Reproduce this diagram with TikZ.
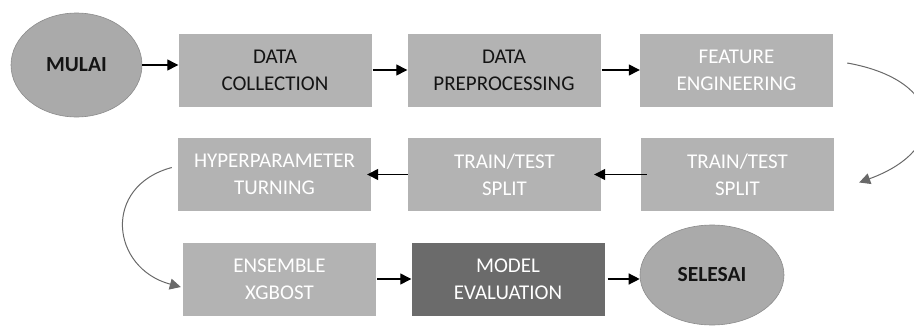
\documentclass[tikz,border=0pt]{standalone}
\usepackage{fontspec}
\setmainfont{Carlito}
\usetikzlibrary{arrows.meta,shapes.geometric}
\definecolor{cbox}{RGB}{179,179,179}
\definecolor{cterm}{RGB}{170,170,170}
\definecolor{cedge}{RGB}{140,140,140}
\definecolor{ceval}{RGB}{107,107,107}
\definecolor{ccurve}{RGB}{105,105,105}
\definecolor{ctext}{RGB}{20,20,20}

\begin{document}
\begin{tikzpicture}[x=1pt,y=1pt,
  stage/.style={rectangle,fill=cbox,minimum width=193pt,minimum height=73pt,
    inner sep=0pt,align=center,text=white,font=\fontsize{21}{27}\selectfont},
  terminal/.style={ellipse,fill=cterm,draw=cedge,line width=0.6pt,inner sep=0pt,
    text=ctext,font=\fontsize{21.5}{24}\selectfont\bfseries},
  flow/.style={-{Triangle[length=11pt,width=11pt]},line width=1.3pt},
  loopback/.style={-{Triangle[length=11pt,width=11pt]},ccurve,line width=1pt}]
  \useasboundingbox (0,0) rectangle (914,325);
  % row 1
  \node[terminal,minimum width=131pt,minimum height=104pt] (mulai) at (76.5,260) {MULAI};
  \node[stage,text=ctext] (dc) at (275,255) {DATA\\COLLECTION};
  \node[stage,text=ctext] (dp) at (504,255) {DATA\\PREPROCESSING};
  \node[stage] (fe) at (736.5,255) {FEATURE\\ENGINEERING};
  % row 2 (runs right to left)
  \node[stage] (tt1) at (737.5,150.5) {TRAIN/TEST\\SPLIT};
  \node[stage] (tt2) at (504.5,150.5) {TRAIN/TEST\\SPLIT};
  \node[stage] (hyp) at (274.5,150.5) {HYPERPARAMETER\\TURNING};
  % row 3
  \node[stage] (ens) at (279.5,46) {ENSEMBLE\\XGBOST};
  \node[stage,fill=ceval] (me) at (508,46) {MODEL\\EVALUATION};
  \node[terminal,minimum width=144pt,minimum height=100pt] (selesai) at (712,50) {SELESAI};
  % straight arrows
  \draw[flow] (mulai.east) -- (dc.west |- mulai.east);
  \draw[flow] ([xshift=1pt]dc.east) -- (dp.west);
  \draw[flow] ([xshift=1pt]dp.east) -- (fe.west);
  \draw[flow] ([xshift=6pt]tt1.west) -- ([xshift=-7pt]tt2.east);
  \draw[flow] (tt2.west) -- ([xshift=-4pt]hyp.east);
  \draw[flow] ([xshift=1pt]ens.east) -- (me.west);
  \draw[flow] ([xshift=3pt]me.east) -- (me.east -| selesai.west);
  % --- curved returns between rows ---
  \draw[loopback] ([shift={(14,7)}]fe.east) to[out=-10,in=20,looseness=2.1] ([shift={(25,-8)}]tt1.east);
  \draw[loopback] ([shift={(-6,7)}]hyp.west) to[out=195,in=165,looseness=1.55] ([shift={(-2,-8)}]ens.west);
\end{tikzpicture}
\end{document}
